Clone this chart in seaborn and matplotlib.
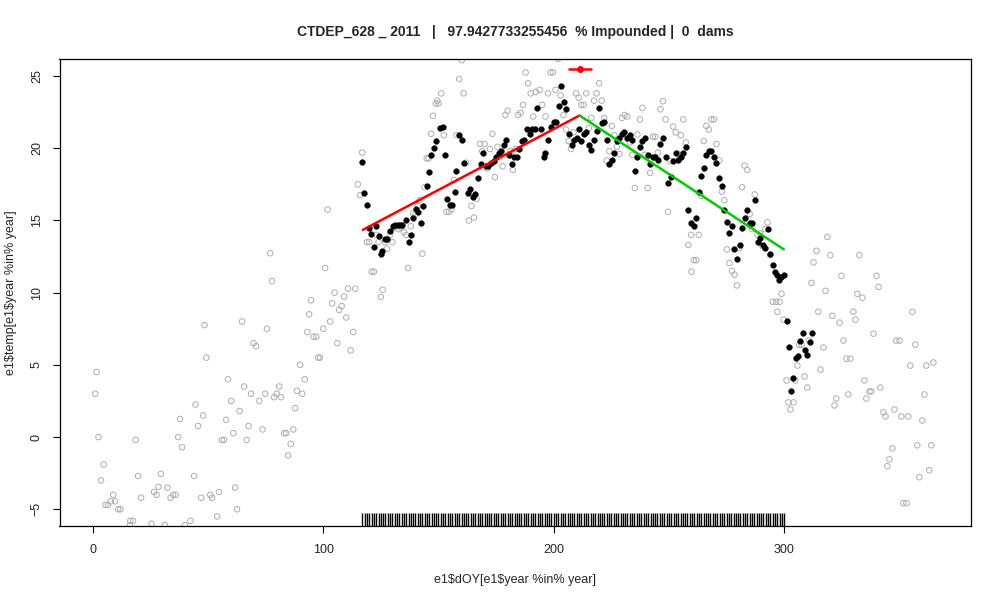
import numpy as np
import pandas as pd
import matplotlib
matplotlib.use('Agg')
import matplotlib.pyplot as plt
import seaborn as sns

# all-years temperature readings (grey open circles)
gray_doy = [1.1, 1.7, 2.5, 3.6, 4.7, 5.5, 6.6, 7.8, 8.9, 9.7, 11, 12, 16.1, 16.3, 17.5, 18.6, 19.7, 21,
            25.5, 26.6, 27.7, 28.5, 29.6, 31.3, 32.4, 33.8, 34.9, 36, 37.1, 37.9, 38.8, 40, 42.4, 44,
            44.6, 45.7, 47.1, 47.9, 48.5, 49.3, 51, 51.8, 54, 54.8, 56, 57, 57.9, 58.7, 60.1, 61, 61.8,
            62.6, 63.7, 64.8, 65.7, 66.8, 67.6, 68.7, 69.8, 70.9, 72.3, 73.7, 74.8, 75.6, 77, 77.8,
            78.7, 79.8, 80.9, 81.7, 83.1, 83.9, 84.8, 85.9, 87, 87.8, 88.6, 90, 90.9, 92, 93.1, 93.9,
            94.7, 95.8, 97, 97.8, 98.6, 100, 100.8, 101.9, 103, 103.9, 104.9, 106.1, 106.9, 108,
            109.1, 110, 110.8, 111.9, 113, 113.9, 115, 116, 116.9,
            119, 120, 121, 122, 123, 124, 125, 125.8, 126.9, 127.7, 129, 130, 131, 132.7, 133.8, 135,
            136, 136.8, 138, 139, 140, 141, 141.8, 143, 144, 144.9, 145.7, 146.8, 147.6, 148.8,
            149.5, 150, 151.2, 152.3, 153.5, 154.6, 155.7, 156.8, 157.9, 159, 160.1, 160.9, 162,
            163.2, 164.3, 165.4, 166.5, 168, 169, 170, 171.2, 172.3, 173.4, 174.5, 175.6, 176.7,
            177.8, 179, 180, 181.2, 182.3, 183.4, 184.5, 185.6, 186.7, 187.8, 188.9, 190, 191.1,
            192.2, 193.9, 195, 196.4, 197.5, 198.6, 199.7, 200.8, 201.9, 203, 204.2, 205.3, 206.4,
            207.5, 208.6, 209.7, 210.8, 211.9, 213, 214.1, 215.2, 216.3, 217.5, 218.6, 219.7, 220.8,
            221.9, 223, 224.1, 225.2, 226.3, 227.4, 228.5, 229.6, 230.7, 231.9, 233, 234.1, 235.2,
            236.3, 237.4, 238.5, 239.6, 240.7, 241.8, 243, 244, 245.2, 246.3, 247.4, 248.5, 249.6,
            250.7, 251.8, 252.9, 254, 255.1, 256.2, 257.3, 258.4, 259.6, 259.8, 260.7, 261.8, 262.9,
            264, 265.1, 266.2, 267.3, 268.4, 269.5, 270.6, 271.8, 272.9, 274, 275.1, 276.2, 277.3,
            278.4, 279.5, 280.6, 281.7, 282.8, 283.9, 285, 286.1, 287.2, 288.4, 289.5, 290.6, 291.7,
            292.7, 293.9, 295, 296.5, 297, 298, 298.8, 299.7,
            301, 301.8, 302.7, 304, 304.8, 305.7, 306.5, 307.5, 308.8, 310, 310.8, 311.8, 312.7, 314,
            314.8, 315.7, 317, 317.9, 318.7, 320, 320.9, 321.8, 322.6, 324, 324.8, 325.7, 327,
            327.8, 328.7, 330, 330.9, 331.7, 332.6, 333.9, 334.8, 335.6, 337, 337.8, 338.7, 340,
            340.9, 341.7, 343, 343.9, 344.7, 345.6, 346.9, 347.8, 348.6, 350, 350.8, 351.7, 353,
            353.8, 354.7, 355.6, 356.9, 357.7, 358.6, 359.9, 360.8, 361.6, 362.9, 363.8, 364.7]
gray_temp = [3.0, 4.5, 0.0, -3.0, -1.9, -4.7, -4.7, -4.45, -4.0, -4.45, -5.0, -5.0, -6.1, -5.8, -5.8,
             -0.2, -2.7, -4.2, -6.0, -3.8, -4.0, -3.45, -2.55, -6.1, -3.5, -4.2, -4.0, -4.0, 0.0,
             1.25, -0.7, -6.1, -5.8, -2.7, 2.25, 0.77, -4.2, 1.5, 7.75, 5.5, -4.0, -4.2, -5.5, -3.8,
             -0.2, -0.2, 1.2, 4.0, 2.5, 0.27, -3.5, -5.0, 1.8, 8.0, 3.5, -0.2, 0.77, 3.0, 6.5, 6.3,
             2.5, 0.53, 3.0, 7.5, 12.73, 10.8, 2.76, 3.0, 3.5, 2.76, 0.27, 0.27, -1.27, -0.47, 0.53,
             2.0, 3.2, 5.0, 3.0, 4.0, 7.27, 8.5, 9.47, 6.95, 6.95, 5.5, 5.5, 7.5, 11.7, 15.75, 8.0,
             9.26, 10.0, 6.5, 8.8, 9.07, 9.73, 8.28, 10.27, 6.0, 7.27, 10.27, 17.5, 16.76, 19.7,
             13.5, 13.5, 11.45, 11.45, 14.0, 13.5, 9.7, 10.2, 13.5, 13.05, 14.0, 13.5, 14.5, 14.4,
             14.5, 14.2, 14.0, 11.7, 14.6, 15.5, 15.4, 16.0, 16.4, 12.7, 17.3, 19.3, 19.3, 21.0,
             22.25, 23.1, 23.3, 23.1, 23.8, 20.9, 15.6, 15.6, 15.75, 17.8, 20.9, 24.8, 26.1, 23.8,
             19.0, 15.0, 16.0, 15.2, 16.5, 20.3, 19.8, 20.3, 18.6, 19.95, 21.0, 18.0, 20.1, 19.4,
             18.75, 22.3, 22.6, 19.8, 18.5, 19.95, 22.3, 22.45, 23.0, 25.25, 24.5, 23.8, 22.2, 23.9,
             24.05, 23.0, 22.2, 23.8, 25.25, 25.25, 24.05, 26.2, 23.66, 22.3, 21.3, 20.5, 19.95,
             21.1, 23.8, 23.5, 23.0, 23.0, 23.8, 21.4, 22.1, 23.3, 23.8, 24.5, 23.3, 22.1, 19.15,
             19.8, 21.55, 20.9, 20.1, 19.6, 22.1, 22.3, 22.2, 20.4, 19.55, 17.25, 20.95, 22.0, 22.8,
             19.55, 17.25, 18.3, 20.8, 20.8, 19.7, 22.7, 23.26, 22.0, 15.6, 19.1, 21.5, 21.1, 19.6,
             20.9, 22.0, 20.4, 13.3, 14.0, 11.45, 12.25, 12.25, 14.0, 16.7, 20.5, 21.55, 21.3, 22.0,
             22.0, 20.3, 19.15, 17.0, 16.4, 13.0, 12.05, 11.5, 11.25, 10.5, 13.1, 17.3, 18.8, 18.5,
             15.45, 14.4, 16.8, 14.0, 14.1, 13.2, 14.4,
             14.87, 12.6, 9.37, 9.37, 8.68, 9.37, 9.92, 8.13,
             3.92, 2.4, 1.91, 2.4, 3.92, 4.95, 6.4, 6.4, 4.19, 3.43, 6.68, 10.68, 12.1, 12.9,
             8.68, 4.67, 6.2, 10.13, 13.86, 12.6, 8.4, 2.19, 2.67, 7.92, 11.17, 6.68, 5.43,
             2.95, 5.43, 8.68, 8.13, 9.92, 12.6, 9.65, 3.92, 2.67, 3.16, 3.16, 7.16, 11.17,
             10.4, 3.43, 1.71, 1.43, -2.02, -1.54, -0.78, 1.91, 6.68, 6.68, 1.43, -4.58, -4.58,
             1.43, 4.95, 8.68, 6.4, -0.57, -2.78, 1.15, 2.95, 4.95, -2.3, -0.57, 5.16]

# selected year (black dots)
black_doy = [117, 117.7, 118.8, 119.7, 120.8, 121.9, 123, 124.1, 124.9, 125.7, 126.9, 127.7, 129,
             130.2, 131.3, 132.4, 133.5, 134.3, 136, 137.1, 138, 139, 140.2, 141.3, 142.4, 143.5,
             144.9, 146, 146.8, 147.9, 149, 150.7, 151.8, 152.9, 153.7, 154.8, 155.9, 157, 157.6,
             159, 160.1, 161.2, 162.6, 163.7, 164.8, 165.9, 167, 168.4, 169.5, 170.6, 171.7, 172.9,
             174, 175.1, 176.2, 177.3, 178.4, 179.5, 180.6, 181.7, 182.8, 183.9, 185, 186.1, 187.3,
             188.4, 189.5, 190.6, 191.7, 192.8, 194.5, 195.6, 196.4, 197.5, 198.9, 200, 201.1,
             202.2, 203.3, 204.4, 205.5, 206.6, 207.8, 208.9, 210, 210.8, 211.9, 213, 214.1, 215.2,
             216.3, 217.5, 218.6, 219.7, 220.8, 221.9, 223, 224.1, 225.2, 226.3, 227.4, 228.5,
             229.6, 230.7, 231.9, 233, 234.1, 235.2, 236.3, 237.4, 238.5, 239.6, 240.7, 241.8, 243,
             244, 245.2, 246.3, 247.4, 248.5, 249.6, 250.7, 251.8, 252.9, 254, 255.1, 256.2, 257.3,
             258.4, 259.6, 260.7, 261.8, 262.9, 264, 265.1, 266.2, 267.3, 268.4, 269.5, 270.6,
             271.8, 272.9, 274, 275.1, 276.2, 277.3, 278.4, 279.5, 280.6, 281.7, 282.8, 283.9, 285,
             286.1, 287.2, 288.4, 289.5, 290.6, 291.7, 292.8, 293.9, 295, 295.8, 297, 297.8, 298.6,
             299.7, 301, 302, 303, 304, 305, 306, 307, 308, 309, 310, 311, 312]
black_temp = [19.07, 16.9, 16.1, 14.5, 14.06, 13.16, 14.6, 13.9, 12.7, 12.9, 13.7, 13.7, 14.3, 14.6,
              14.7, 14.7, 14.7, 14.7, 15.0, 13.5, 14.0, 15.2, 15.8, 15.6, 14.8, 16.0, 17.4, 18.35,
              19.5, 20.0, 20.5, 21.4, 21.5, 19.5, 16.5, 16.1, 16.1, 17.0, 18.4, 20.9, 20.6, 19.0,
              16.9, 17.2, 16.6, 16.8, 17.96, 18.9, 19.7, 18.8, 18.8, 19.0, 19.15, 19.4, 19.7, 19.8,
              20.2, 20.6, 19.55, 18.9, 19.4, 19.4, 19.95, 20.5, 20.6, 21.3, 21.0, 21.3, 21.3, 22.8,
              21.3, 19.4, 19.7, 20.55, 21.5, 21.8, 21.85, 22.9, 24.3, 23.2, 22.7, 21.0, 20.2, 20.6,
              20.7, 21.3, 20.5, 21.0, 21.1, 20.2, 19.9, 20.6, 21.2, 22.8, 21.75, 21.85, 20.6, 18.9,
              19.2, 19.7, 20.5, 20.7, 21.0, 21.1, 20.7, 20.9, 20.6, 18.4, 19.4, 20.1, 20.5, 20.7,
              19.55, 18.9, 19.4, 19.4, 19.2, 20.3, 20.7, 19.4, 17.6, 18.0, 19.15, 19.7, 19.2, 19.4,
              19.7, 20.1, 15.75, 14.8, 14.6, 15.2, 17.0, 18.1, 18.6, 19.5, 19.8, 19.8, 19.4, 19.0,
              17.96, 17.4, 15.7, 14.9, 14.1, 14.6, 13.05, 12.3, 13.3, 14.5, 15.2, 15.7, 14.85,
              14.85, 16.4, 13.5, 13.8, 13.3, 13.1, 14.4, 12.7, 11.9, 11.4, 11.2, 10.9, 11.05, 11.2,
              8.06, 6.26, 3.22, 4.12, 5.5, 5.64, 6.63, 7.23, 6.05, 5.7, 6.6, 7.23]

# days marked on the rug
rug_doy = list(range(117, 301))

# piecewise fit: rising and falling segments
rise_doy = [117.2, 211.2]
rise_temp = [14.35, 22.27]
fall_doy = [211.2, 299.8]
fall_temp = [22.27, 13.0]

# breakpoint estimate with interval
bp_doy = 211.2
bp_lo = 206.5
bp_hi = 216.2
bp_temp = 25.5

title = 'CTDEP_628 _ 2011   |   97.9427733255456  % Impounded |  0  dams'

sns.set_style('ticks')
plt.rcParams['font.family'] = ['Liberation Sans', 'DejaVu Sans']

fig = plt.figure(figsize=(10, 6), dpi=100)
ax = fig.add_axes([0.0595, 1 - 526.3 / 600, 0.911, 467 / 600])

gray_df = pd.DataFrame({'doy': gray_doy, 'temp': gray_temp})
black_df = pd.DataFrame({'doy': black_doy, 'temp': black_temp})

sns.scatterplot(data=gray_df, x='doy', y='temp', ax=ax, marker='o', s=16,
                facecolor='none', edgecolor='#adadad', linewidth=0.7, clip_on=True)
sns.scatterplot(data=black_df, x='doy', y='temp', ax=ax, marker='o', s=17,
                color='black', edgecolor='black', linewidth=0.3)
sns.lineplot(x=rise_doy, y=rise_temp, ax=ax, color='#ff0000', lw=1.8)
sns.lineplot(x=fall_doy, y=fall_temp, ax=ax, color='#00cd00', lw=1.8)
sns.rugplot(x=rug_doy, ax=ax, height=0.028, color='black', lw=0.6)

ax.plot([bp_lo, bp_hi], [bp_temp, bp_temp], color='#ff0000', lw=1.8)
ax.plot([bp_doy], [bp_temp], 'o', color='#ff0000', ms=4)

ax.set_xlim(-14.4, 380.8)
ax.set_ylim(-6.18, 26.16)
ax.set_xticks([0, 100, 200, 300])
ax.set_yticks([-5, 0, 5, 10, 15, 20, 25])
ax.tick_params(axis='both', length=5, width=0.8, labelsize=9, color='black')
ax.tick_params(axis='x', pad=8)
ax.tick_params(axis='y', pad=7)
plt.setp(ax.get_yticklabels(), rotation=90, va='center')
for sp in ax.spines.values():
    sp.set_visible(True)
    sp.set_linewidth(0.9)
    sp.set_color('black')

ax.set_xlabel(r'e1\$dOY[e1\$year %in% year]', fontsize=9, labelpad=13)
ax.set_ylabel(r'e1\$temp[e1\$year %in% year]', fontsize=9, labelpad=10)
ax.set_title(title, fontsize=10, fontweight='bold', pad=17)

fig.savefig('out.png', dpi=100)
